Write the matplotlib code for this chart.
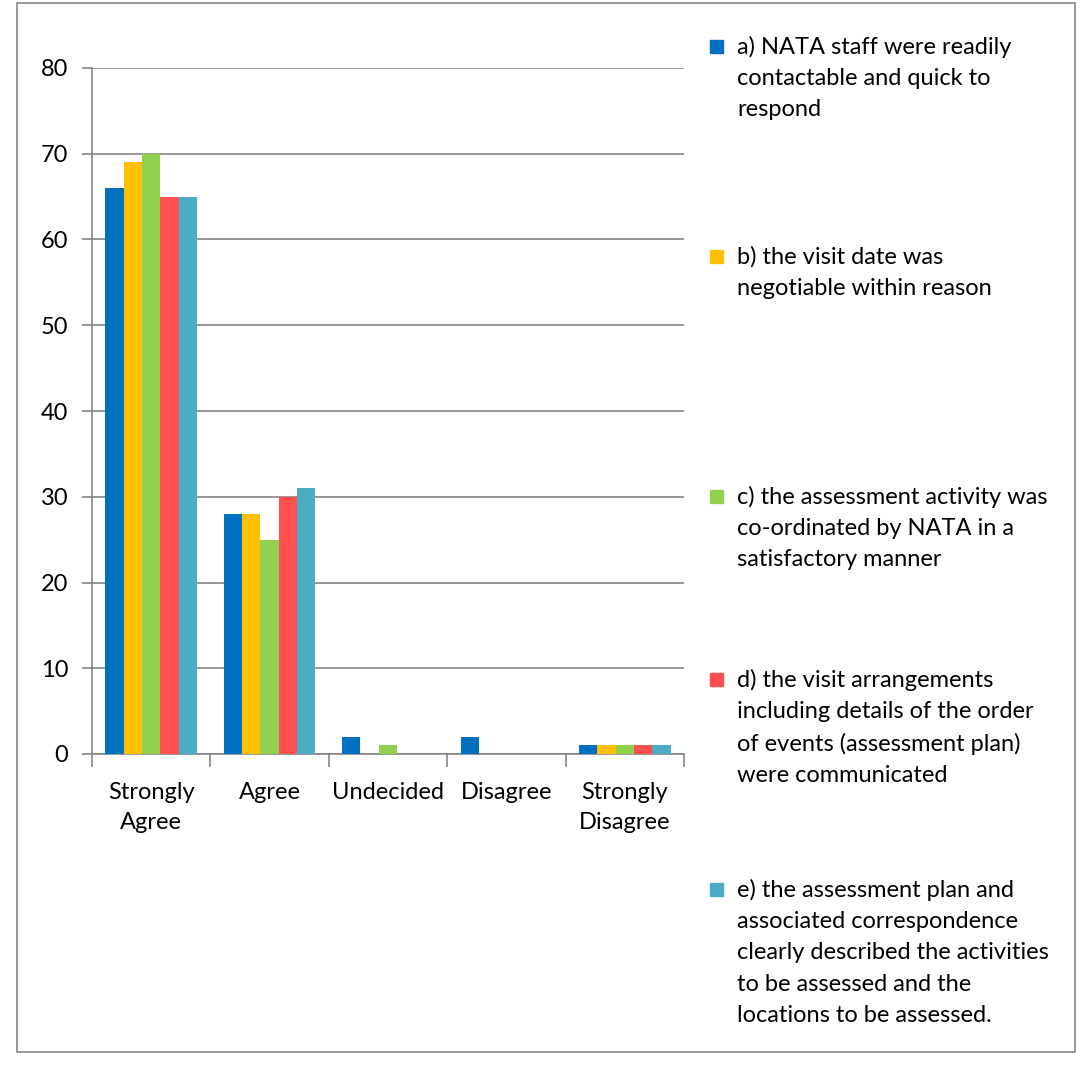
import numpy as np
import matplotlib.pyplot as plt
from matplotlib.patches import Rectangle

categories = ["Strongly\nAgree", "Agree", "Undecided", "Disagree", "Strongly\nDisagree"]
series_labels = [
    "a) NATA staff were readily\ncontactable and quick to\nrespond",
    "b) the visit date was\nnegotiable within reason",
    "c) the assessment activity was\nco-ordinated by NATA in a\nsatisfactory manner",
    "d) the visit arrangements\nincluding details of the order\nof events (assessment plan)\nwere communicated",
    "e) the assessment plan and\nassociated correspondence\nclearly described the activities\nto be assessed and the\nlocations to be assessed.",
]
values_a = [66, 28, 2, 2, 1]
values_b = [69, 28, 0, 0, 1]
values_c = [70, 25, 1, 0, 1]
values_d = [65, 30, 0, 0, 1]
values_e = [65, 31, 0, 0, 1]
colors = ["#0070C0", "#FFC000", "#92D050", "#FF5050", "#4BACC6"]

plt.rcParams['font.family'] = ['Lato', 'DejaVu Sans']
W, H = 1091, 1065
fig = plt.figure(figsize=(W / 100, H / 100), dpi=100)

# outer border
fig.patches.append(Rectangle((17 / W, 1 - 1052 / H), (1075 - 17) / W, (1052 - 3) / H,
                             transform=fig.transFigure, fill=False, ec="#868686", lw=1.2))

ax = fig.add_axes([92 / W, 1 - 754 / H, (684 - 92) / W, (754 - 68) / H])
all_vals = [values_a, values_b, values_c, values_d, values_e]
x = np.arange(len(categories))
bw = 0.155
for i, (vals, col) in enumerate(zip(all_vals, colors)):
    ax.bar(x + (i - 2) * bw, vals, bw, color=col, zorder=3)

ax.set_xlim(-0.5, len(categories) - 0.5)
ax.set_ylim(0, 80)
ax.set_yticks(range(0, 81, 10))
ax.yaxis.grid(True, color="#868686", lw=1.2, zorder=0)
for s in ["top", "right"]:
    ax.spines[s].set_visible(False)
for s in ["left", "bottom"]:
    ax.spines[s].set_color("#868686")
    ax.spines[s].set_linewidth(1.2)
ax.set_xticks(np.arange(-0.5, len(categories), 1.0))
ax.set_xticklabels([])
ax.set_xticks(x, minor=True)
ax.set_xticklabels(categories, minor=True, fontsize=17, linespacing=1.55)
ax.tick_params(axis="x", which="minor", length=0, pad=20)
ax.tick_params(axis="x", which="major", length=9, color="#868686", width=1.2)
ax.tick_params(axis="y", length=7, color="#868686", width=1.2, labelsize=17, pad=10)

# legend
legend_y = [47, 257, 497, 680, 890]
for lab, col, yy in zip(series_labels, colors, legend_y):
    fig.patches.append(Rectangle((710 / W, 1 - (yy + 6) / H), 13 / W, 13 / H,
                                 transform=fig.transFigure, color=col))
    fig.text(737 / W, 1 - (yy - 11) / H, lab, fontsize=17, va="top", ha="left",
             linespacing=1.6)

fig.savefig("out.png", dpi=100)
